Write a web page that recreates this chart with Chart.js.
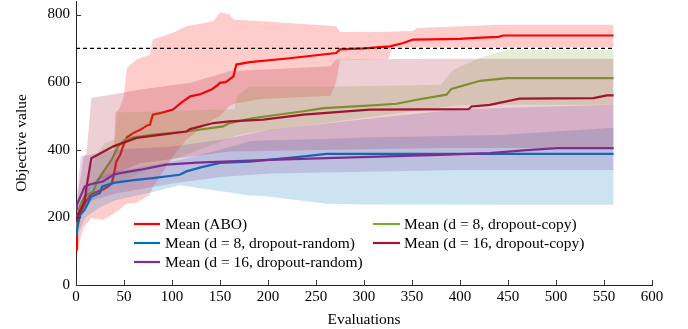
<!DOCTYPE html>
<html><head><meta charset="utf-8">
<script src="https://cdn.jsdelivr.net/npm/chart.js@4.4.0/dist/chart.umd.min.js"></script>
<style>html,body{margin:0;padding:0;background:#fff;}#wrap{width:688px;height:329px;position:relative;}</style>
</head><body><div id="wrap"><canvas id="c" width="688" height="329"></canvas></div>
<script>
const xTicks = [0, 50, 100, 150, 200, 250, 300, 350, 400, 450, 500, 550, 600];
const yTicks = [0, 200, 400, 600, 800];
const xTitle = 'Evaluations';
const yTitle = 'Objective value';
const targetX = [0, 560];
const targetY = [700, 700];

const seriesNames = ['Mean (ABO)', 'Mean (d = 8, dropout-random)', 'Mean (d = 16, dropout-random)', 'Mean (d = 8, dropout-copy)', 'Mean (d = 16, dropout-copy)'];

const aboX    = [0,1,2,5,10,16,22,27,33,37,39,42,46,49,53,60,67,74,77,80,90,101,110,119,130,141,147,150,156,164,167,181,220,271,275,300,327,340,351,400,417,440,445,560];
const aboMean = [105,170,190,215,245,270,276,281,290,300,320,365,385,410,437,450,459,472,474,504,510,519,540,558,565,578,590,598,600,617,652,659,670,686,697,700,706,715,726,728,731,734,738,738];
const aboBandX = [0,3,8,16,28,39,41,45,50,53,63,77,80,101,115,143,150,160,164,192,265,271,275,325,330,351,355,442,560];
const aboUpper = [120,200,260,300,330,370,510,520,560,642,667,681,726,746,765,780,807,800,785,780,767,765,748,749,750,751,760,770,770];
const aboLower = [60,120,170,198,193,210,215,222,235,240,243,267,290,380,430,490,500,530,535,550,560,600,665,668,703,703,703,703,703];

const d8rX    = [0,1,4,9,16,25,27,39,60,80,108,115,130,150,181,200,230,261,560];
const d8rMean = [150,163,207,222,262,272,291,302,310,316,326,336,348,361,365,370,378,388,388];
const d8rBandX = [0,10,25,40,80,108,150,181,200,261,300,442,560];
const d8rUpper = [180,280,320,335,355,370,400,425,428,432,436,444,465];
const d8rLower = [140,200,230,250,275,295,278,265,262,240,238,237,237];

const d16rX    = [0,1,9,15,28,39,46,67,94,126,202,261,379,431,466,501,560];
const d16rMean = [225,237,291,298,306,326,331,341,356,362,370,375,385,390,398,405,405];
const d16rBandX = [0,5,40,100,153,202,300,400,560];
const d16rUpper = [230,380,400,410,430,459,490,520,533];
const d16rLower = [180,240,270,300,320,330,335,340,340];

const d8cX    = [0,1,5,9,18,23,30,37,44,51,60,80,115,153,160,185,237,258,300,334,355,386,391,421,449,560];
const d8cMean = [170,200,240,262,277,311,341,370,410,430,437,445,454,469,479,494,514,523,530,536,548,563,580,604,612,612];
const d8cBandX = [0,10,20,30,41,43,100,165,168,181,275,380,393,421,449,560];
const d8cUpper = [200,300,380,420,430,510,515,520,558,587,587,592,637,672,696,696];
const d8cLower = [150,230,260,280,300,302,370,440,442,450,485,525,530,533,533,533];

const d16cX    = [0,1,9,11,16,39,63,115,119,143,160,195,237,306,409,412,431,462,539,553,560];
const d16cMean = [190,202,247,291,375,410,435,454,461,479,484,489,504,519,520,528,533,551,553,561,561];
const d16cBandX = [0,8,11,16,41,67,119,160,265,271,379,560];
const d16cUpper = [230,380,390,553,565,578,598,632,647,667,669,669];
const d16cLower = [150,230,260,300,330,360,380,395,400,400,405,405];

const colors = {abo:'#ff0000', d8r:'#0072bd', d16r:'#7e2f8e', d8c:'#77ac30', d16c:'#a2142f'};
const FONT = 'Liberation Serif, Times New Roman, serif';

function pts(xs, ys){ return xs.map((x,i)=>({x:x, y:ys[i]})); }
function rgba(hex,a){ const n=parseInt(hex.slice(1),16); return `rgba(${n>>16&255},${n>>8&255},${n&255},${a})`; }

const series = [
  {name:seriesNames[0], c:colors.abo, x:aboX, m:aboMean, bx:aboBandX, up:aboUpper, lo:aboLower},
  {name:seriesNames[3], c:colors.d8c, x:d8cX, m:d8cMean, bx:d8cBandX, up:d8cUpper, lo:d8cLower},
  {name:seriesNames[1], c:colors.d8r, x:d8rX, m:d8rMean, bx:d8rBandX, up:d8rUpper, lo:d8rLower},
  {name:seriesNames[4], c:colors.d16c, x:d16cX, m:d16cMean, bx:d16cBandX, up:d16cUpper, lo:d16cLower},
  {name:seriesNames[2], c:colors.d16r, x:d16rX, m:d16rMean, bx:d16rBandX, up:d16rUpper, lo:d16rLower},
];

const datasets = [];
series.forEach(s=>{
  datasets.push({label:s.name, data:pts(s.x,s.m), borderColor:s.c, borderWidth:2.2, pointRadius:0, fill:false, tension:0});
  datasets.push({label:s.name+' band', data:pts(s.bx,s.up), borderWidth:0, borderColor:'rgba(0,0,0,0)', pointRadius:0, fill:'+1', backgroundColor:rgba(s.c,0.2), tension:0});
  datasets.push({label:s.name+' lower', data:pts(s.bx,s.lo), borderWidth:0, borderColor:'rgba(0,0,0,0)', pointRadius:0, fill:false, tension:0});
});
datasets.push({label:'target', data:pts(targetX,targetY), borderColor:'#000', borderWidth:1.4, borderDash:[4,3], pointRadius:0, fill:false});
const N = datasets.length;
datasets.forEach((d,k)=>{ d.order = N - k; });

const legendItems = [
  {name:seriesNames[0], c:colors.abo, col:0, row:0},
  {name:seriesNames[3], c:colors.d8c, col:1, row:0},
  {name:seriesNames[1], c:colors.d8r, col:0, row:1},
  {name:seriesNames[4], c:colors.d16c, col:1, row:1},
  {name:seriesNames[2], c:colors.d16r, col:0, row:2},
];

const deco = {
  id:'deco',
  afterDraw(chart){
    const ctx = chart.ctx, xs = chart.scales.x, ys = chart.scales.y, a = chart.chartArea;
    ctx.save();
    ctx.strokeStyle = '#333'; ctx.lineWidth = 1;
    xTicks.forEach(v=>{ const p = Math.round(xs.getPixelForValue(v))+0.5; ctx.beginPath(); ctx.moveTo(p,a.bottom); ctx.lineTo(p,a.bottom-5); ctx.stroke(); });
    yTicks.forEach(v=>{ const p = Math.round(ys.getPixelForValue(v))+0.5; ctx.beginPath(); ctx.moveTo(a.left,p); ctx.lineTo(a.left+5,p); ctx.stroke(); });
    ctx.font = '15.5px ' + FONT; ctx.textBaseline = 'alphabetic'; ctx.fillStyle = '#000';
    const colLine = [[134,160],[373,400]], colText = [165,404];
    legendItems.forEach(it=>{
      const yl = 224 + it.row*19;
      ctx.strokeStyle = it.c; ctx.lineWidth = 2.2;
      ctx.beginPath(); ctx.moveTo(colLine[it.col][0], yl); ctx.lineTo(colLine[it.col][1], yl); ctx.stroke();
      ctx.fillText(it.name, colText[it.col], yl + 5.3);
    });
    ctx.textAlign = 'center';
    ctx.fillText(xTitle, (a.left+a.right)/2, 324);
    ctx.translate(26, (a.top+a.bottom)/2); ctx.rotate(-Math.PI/2);
    ctx.fillText(yTitle, 0, 0);
    ctx.restore();
  }
};

new Chart(document.getElementById('c'), {
  type:'line',
  data:{datasets},
  options:{
    responsive:false, animation:false, devicePixelRatio:1,
    layout:{padding:{top:1, right:36, left:0, bottom:0}},
    plugins:{legend:{display:false}, tooltip:{enabled:false}, filler:{propagate:false}},
    scales:{
      x:{type:'linear', min:0, max:600,
         grid:{display:false, drawTicks:false}, border:{display:true, color:'#222', width:1},
         ticks:{color:'#000', font:{family:FONT, size:15}, padding:3, maxRotation:0},
         afterBuildTicks(s){ s.ticks = xTicks.map(v=>({value:v})); },
         afterFit(s){ s.height = 44; s.paddingLeft = 0; s.paddingRight = 0; }},
      y:{type:'linear', min:0, max:840,
         grid:{display:false, drawTicks:false}, border:{display:true, color:'#222', width:1},
         ticks:{color:'#000', font:{family:FONT, size:15}, padding:6},
         afterBuildTicks(s){ s.ticks = yTicks.map(v=>({value:v})); },
         afterFit(s){ s.width = 76; s.paddingTop = 0; s.paddingBottom = 0; }}
    }
  },
  plugins:[deco]
});
</script></body></html>
